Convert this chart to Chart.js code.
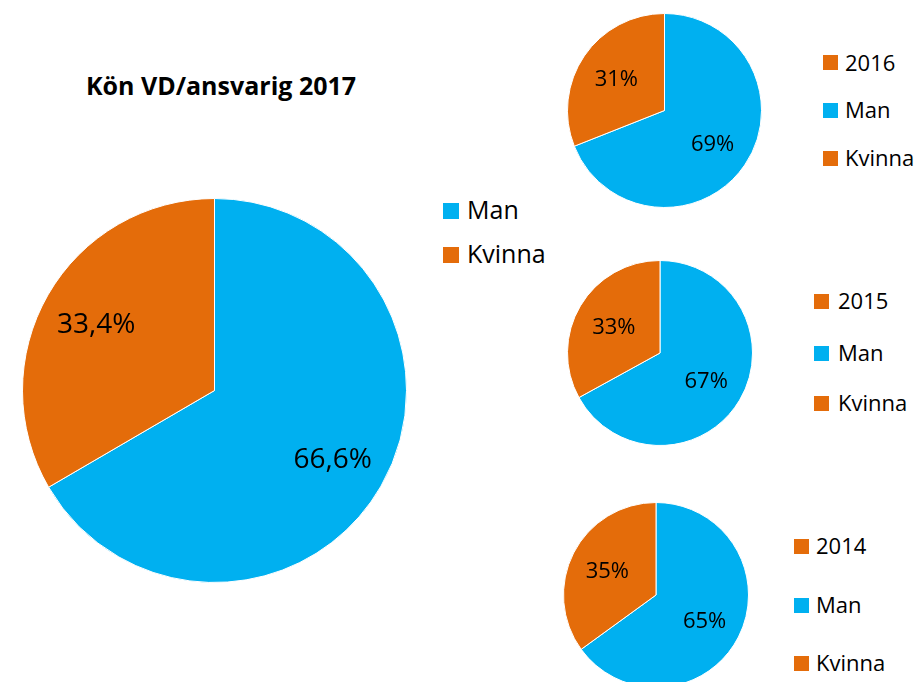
<!DOCTYPE html>
<html>
<head>
<meta charset="utf-8">
<script src="https://cdn.jsdelivr.net/npm/chart.js@4/dist/chart.umd.min.js"></script>
<style>
  html, body { margin: 0; padding: 0; background: #fff; width: 919px; height: 682px; overflow: hidden; }
  body { position: relative; font-family: "Open Sans", sans-serif; color: #000; }
  canvas { position: absolute; }
  .t { position: absolute; line-height: 1; white-space: nowrap; }
  .sq { position: absolute; }
</style>
</head>
<body>
<div class="t" id="title" style="font-weight:bold;font-size:25px;">Kön VD/ansvarig 2017</div>
<canvas id="c2017" width="385" height="385" style="left:22px;top:198px;"></canvas>
<canvas id="c2016" width="195" height="195" style="left:567px;top:13px;"></canvas>
<canvas id="c2015" width="186" height="186" style="left:567px;top:260px;"></canvas>
<canvas id="c2014" width="186" height="186" style="left:563px;top:502px;"></canvas>
<script>
// ---- data ----
const categories = ['Man', 'Kvinna'];
const values2017 = [66.6, 33.4];
const values2016 = [69, 31];
const values2015 = [67, 33];
const values2014 = [65, 35];
const years = ['2017', '2016', '2015', '2014'];
const titleText = 'Kön VD/ansvarig 2017';

const colors = ['#00B0F0', '#E46C0A'];

// label plugin
const sliceLabels = {
  id: 'sliceLabels',
  afterDatasetsDraw(chart, args, opts) {
    const ctx = chart.ctx;
    const meta = chart.getDatasetMeta(0);
    const vals = chart.data.datasets[0].data;
    ctx.save();
    ctx.fillStyle = '#000';
    ctx.font = opts.size + 'px "Open Sans"';
    ctx.textAlign = 'center';
    ctx.textBaseline = 'alphabetic';
    meta.data.forEach((arc, i) => {
      const p = arc.getProps(['x', 'y', 'startAngle', 'endAngle', 'outerRadius'], true);
      const mid = (p.startAngle + p.endAngle) / 2;
      const r = p.outerRadius * opts.frac;
      const x = p.x + Math.cos(mid) * r;
      const y = p.y + Math.sin(mid) * r;
      const txt = (opts.decimals ? vals[i].toFixed(opts.decimals).replace('.', ',') : String(vals[i])) + '%';
      ctx.fillText(txt, x, y + opts.size * 0.357);
    });
    ctx.restore();
  }
};

function makePie(id, values, size, frac, decimals) {
  return new Chart(document.getElementById(id), {
    type: 'pie',
    data: {
      labels: categories,
      datasets: [{
        data: values,
        backgroundColor: colors,
        borderColor: '#ffffff',
        borderWidth: 1,
        hoverOffset: 0
      }]
    },
    options: {
      responsive: false,
      devicePixelRatio: 1,
      animation: false,
      events: [],
      layout: { padding: 0 },
      plugins: {
        legend: { display: false },
        tooltip: { enabled: false },
        title: { display: false },
        sliceLabels: { size: size, frac: frac, decimals: decimals }
      }
    },
    plugins: [sliceLabels]
  });
}

makePie('c2017', values2017, 28, 0.71, 1);
makePie('c2016', values2016, 22, 0.60, 0);
makePie('c2015', values2015, 22, 0.58, 0);
makePie('c2014', values2014, 22, 0.59, 0);

// ---- legends & title (HTML text) ----
function placeText(text, left, capCenter, fs, centered) {
  const d = document.createElement('div');
  d.className = 't';
  d.style.fontSize = fs + 'px';
  d.style.top = (capCenter - 0.53 * fs) + 'px';
  d.style.left = left + 'px';
  if (centered) d.style.transform = 'translateX(-50%)';
  d.textContent = text;
  document.body.appendChild(d);
  return d;
}
function placeSquare(left, center, size, color) {
  const s = document.createElement('div');
  s.className = 'sq';
  s.style.left = left + 'px';
  s.style.top = (center - size / 2) + 'px';
  s.style.width = size + 'px';
  s.style.height = size + 'px';
  s.style.background = color;
  document.body.appendChild(s);
}

// title
const t = document.getElementById('title');
t.textContent = titleText;
t.style.left = '221px';
t.style.top = (86 - 0.53 * 25) + 'px';
t.style.transform = 'translateX(-50%)';

// main legend
const mainCenters = [210.5, 254.5];
categories.forEach((c, i) => {
  placeSquare(443, mainCenters[i], 16, colors[i]);
  placeText(c, 467, mainCenters[i], 25);
});

// small legends: [year, Man, Kvinna]
const smallLegends = [
  { year: years[1], sq: 823, tx: 845, centers: [62.5, 110, 158] },
  { year: years[2], sq: 814, tx: 838, centers: [301, 353, 403] },
  { year: years[3], sq: 794, tx: 816, centers: [546, 605, 663] }
];
smallLegends.forEach(L => {
  const items = [[L.year, colors[1]], [categories[0], colors[0]], [categories[1], colors[1]]];
  items.forEach((it, i) => {
    placeSquare(L.sq, L.centers[i], 15, it[1]);
    placeText(it[0], L.tx, L.centers[i], 22);
  });
});
</script>
</body>
</html>
